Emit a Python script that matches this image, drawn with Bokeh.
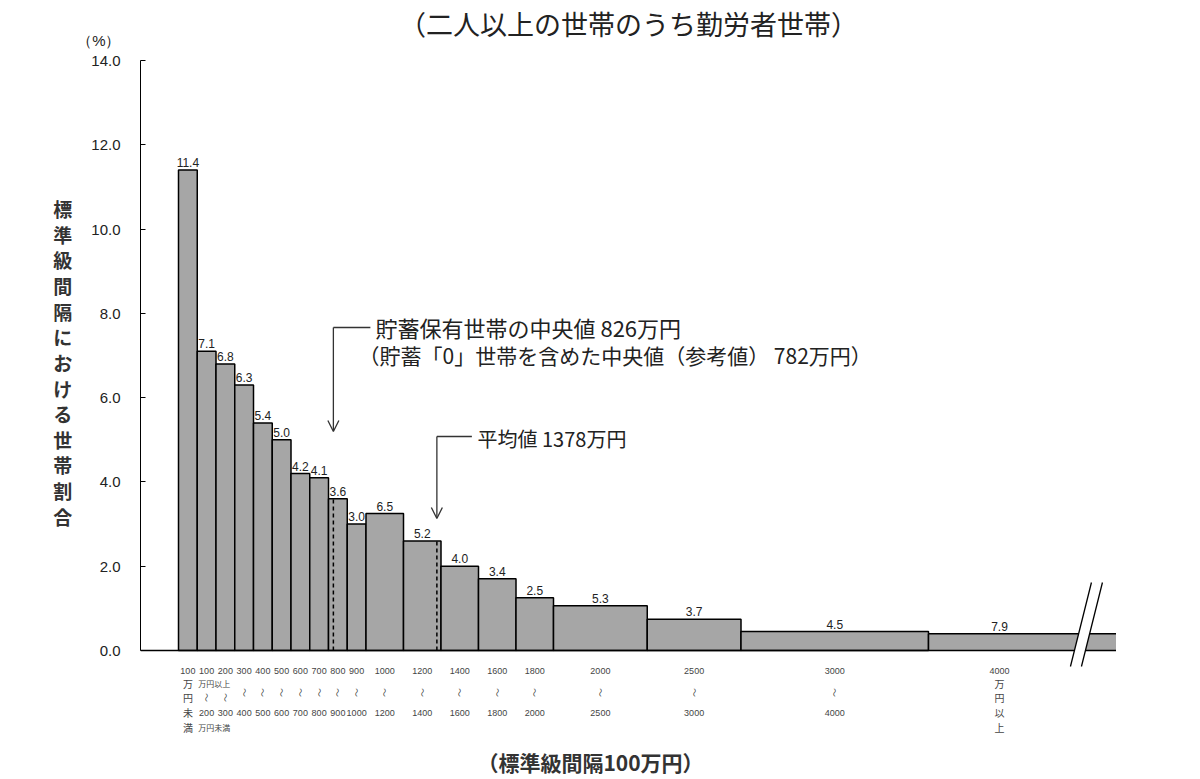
import math
from bokeh.plotting import figure
from bokeh.models import ColumnDataSource, Range1d, FixedTicker, NumeralTickFormatter, Arrow, OpenHead
from bokeh.embed import file_html
from bokeh.resources import INLINE
from bokeh.core.properties import value

# ---------------- data ----------------
title_text = "（二人以上の世帯のうち勤労者世帯）"
y_label_text = "標準級間隔における世帯割合"
x_label_text = "（標準級間隔100万円）"
unit_text = "（%）"
median_text = "貯蓄保有世帯の中央値 826万円"
median_note = "（貯蓄「0」世帯を含めた中央値（参考値） 782万円）"
mean_text = "平均値 1378万円"

bin_lower = [0, 100, 200, 300, 400, 500, 600, 700, 800, 900,
             1000, 1200, 1400, 1600, 1800, 2000, 2500, 3000, 4000]
bin_upper = [100, 200, 300, 400, 500, 600, 700, 800, 900, 1000,
             1200, 1400, 1600, 1800, 2000, 2500, 3000, 4000, 5000]
share_pct = [11.4, 7.1, 6.8, 6.3, 5.4, 5.0, 4.2, 4.1, 3.6, 3.0,
             6.5, 5.2, 4.0, 3.4, 2.5, 5.3, 3.7, 4.5, 7.9]
class_units = [1, 1, 1, 1, 1, 1, 1, 1, 1, 1,
               2, 2, 2, 2, 2, 5, 5, 10, 20]
median_value = 826
mean_value = 1378
y_ticks = [0, 2, 4, 6, 8, 10, 12, 14]
top_labels = ["100", "100", "200", "300", "400", "500", "600", "700", "800", "900",
              "1000", "1200", "1400", "1600", "1800", "2000", "2500", "3000", "4000"]
bottom_labels = ["", "200", "300", "400", "500", "600", "700", "800", "900", "1000",
                 "1200", "1400", "1600", "1800", "2000", "2500", "3000", "4000", ""]
first_suffix = "万円未満"
last_suffix = "万円以上"
range_mark = "～"

# ---------------- layout ----------------
FIG_W, FIG_H = 1195, 775
BORDER_L = 140
XS = 0.1875        # px per 万円
YS = 42.14         # px per %
X0_PAGE = 178      # page x of value 0
Y0_PAGE = 650      # page y of value 0


def pxd(page_x):
    return (page_x - X0_PAGE) / XS


def pyd(page_y):
    return (Y0_PAGE - page_y) / YS


JP = value("Noto Sans CJK JP")
LAT = value("Liberation Sans")

p = figure(width=FIG_W, height=FIG_H, output_backend="svg", toolbar_location=None,
           x_axis_location=None,
           min_border_left=BORDER_L, min_border_right=0,
           min_border_top=0, min_border_bottom=0,
           x_range=Range1d(pxd(BORDER_L), pxd(FIG_W)),
           y_range=Range1d(pyd(FIG_H), pyd(0)))
p.outline_line_color = None
p.grid.grid_line_color = None
p.background_fill_color = "white"
p.border_fill_color = "white"

yax = p.yaxis[0]
yax.bounds = (y_ticks[0], y_ticks[-1])
yax.ticker = FixedTicker(ticks=y_ticks, minor_ticks=[])
yax.formatter = NumeralTickFormatter(format="0.0")
yax.major_label_overrides = {y_ticks[-1]: f"{unit_text}\n{y_ticks[-1]:.1f}\n "}
yax.major_tick_in = 5
yax.major_tick_out = 0
yax.minor_tick_line_color = None
yax.axis_line_color = "black"
yax.major_tick_line_color = "black"
yax.major_label_standoff = 20
yax.major_label_text_font = "Liberation Sans"
yax.major_label_text_font_size = "15px"
yax.major_label_text_color = "#222222"
yax.axis_label = "\n".join(y_label_text) + "\n　\n　"
yax.axis_label_orientation = "horizontal"
yax.axis_label_standoff = 2
yax.axis_label_text_font = "Noto Sans CJK JP"
yax.axis_label_text_font_size = "19px"
yax.axis_label_text_font_style = "bold"
yax.axis_label_text_color = "#333333"
yax.axis_label_text_line_height = 0.95

# ---------------- bars ----------------
heights = [pc / u for pc, u in zip(share_pct, class_units)]
n = len(bin_lower)
break_x = bin_lower[-1] + 0.757 * (bin_upper[-1] - bin_lower[-1])
centers = [(a + b) / 2 for a, b in zip(bin_lower[:-1], bin_upper[:-1])] + [(bin_lower[-1] + break_x) / 2]

bars = ColumnDataSource(dict(left=bin_lower[:-1], right=bin_upper[:-1],
                             top=heights[:-1], bottom=[0] * (n - 1)))
p.quad(left="left", right="right", top="top", bottom="bottom", source=bars,
       fill_color="#a6a6a6", line_color="black", line_width=1.5)
# open-ended last class
p.quad(left=[bin_lower[-1]], right=[bin_upper[-1]], top=[heights[-1]], bottom=[0],
       fill_color="#a6a6a6", line_color=None)
p.segment(x0=[bin_lower[-1], bin_lower[-1]], y0=[0, heights[-1]],
          x1=[bin_lower[-1], bin_upper[-1]], y1=[heights[-1], heights[-1]],
          line_color="black", line_width=1.5)
# baseline
p.segment(x0=[pxd(BORDER_L)], y0=[0], x1=[bin_upper[-1]], y1=[0], line_color="black", line_width=1.5)

# break mark
slant = 21 / XS
gap = 11 / XS
yb, yt = pyd(666), pyd(582)
p.patch(x=[break_x, break_x + gap, break_x + gap + slant, break_x + slant],
        y=[yb, yb, yt, yt], fill_color="white", line_color=None)
p.segment(x0=[break_x, break_x + gap], y0=[yb, yb],
          x1=[break_x + slant, break_x + gap + slant], y1=[yt, yt],
          line_color="black", line_width=1.3)

# value labels
p.text(x=centers, y=heights, text=[f"{v:.1f}" for v in share_pct],
       text_align="center", text_baseline="bottom", y_offset=-3,
       text_font=LAT, text_font_size="12px", text_color="#222222")


def bin_height_at(v):
    for a, b, h in zip(bin_lower, bin_upper, heights):
        if a <= v < b:
            return h
    return 0


# median / mean dashed lines
p.segment(x0=[median_value, mean_value], y0=[0, 0],
          x1=[median_value, mean_value], y1=[bin_height_at(median_value), bin_height_at(mean_value)],
          line_color="black", line_width=1.5, line_dash="4 3")

# arrows
for xv, ytop, ybot, hlen in [(median_value, pyd(327), pyd(431), 37), (mean_value, pyd(436), pyd(518), 35)]:
    p.segment(x0=[xv], y0=[ytop], x1=[xv + hlen / XS], y1=[ytop], line_color="#333333", line_width=1.3)
    p.add_layout(Arrow(end=OpenHead(size=11, line_width=1.3, line_color="#333333"),
                       x_start=xv, y_start=ytop, x_end=xv, y_end=ybot,
                       line_color="#333333", line_width=1.3))

p.text(x=[pxd(375)], y=[pyd(326)], text=[median_text], text_align="left", text_baseline="middle",
       text_font=JP, text_font_size="22px", text_color="#222222")
p.text(x=[pxd(358)], y=[pyd(354)], text=[median_note], text_align="left", text_baseline="middle",
       text_font=JP, text_font_size="21px", text_color="#222222")
p.text(x=[pxd(477)], y=[pyd(438)], text=[mean_text], text_align="left", text_baseline="middle",
       text_font=JP, text_font_size="20px", text_color="#222222")

# main title
p.text(x=[pxd(628)], y=[pyd(23)], text=[title_text], text_align="center", text_baseline="middle",
       text_font=JP, text_font_size="27px", text_color="#222222")

# x axis title
p.text(x=[pxd(590)], y=[pyd(761)], text=[x_label_text], text_align="center", text_baseline="middle",
       text_font=JP, text_font_size="21px", text_font_style="bold", text_color="#333333")

# ---------------- category labels below the axis ----------------
R1, R2, R3, R4, R5, RM = 670, 683, 697, 712, 727, 692
num_x, num_y, num_t = [], [], []
mark_x, mark_y = [], []
jp_x, jp_y, jp_t = [], [], []
for i in range(n):
    num_x.append(centers[i]); num_y.append(pyd(R1)); num_t.append(top_labels[i])
    if bottom_labels[i]:
        num_x.append(centers[i]); num_y.append(pyd(R4)); num_t.append(bottom_labels[i])
        mark_x.append(centers[i]); mark_y.append(pyd(R3 if i in (1, 2) else RM))
for k, ch in enumerate(first_suffix):
    jp_x.append(centers[0]); jp_y.append(pyd([R2, R3, R4, R5][k])); jp_t.append(ch)
for k, ch in enumerate(last_suffix):
    jp_x.append(centers[-1]); jp_y.append(pyd([R2, R3, R4, R5][k])); jp_t.append(ch)

p.text(x=num_x, y=num_y, text=num_t, text_align="center", text_baseline="middle",
       text_font=LAT, text_font_size="9px", text_color="#444444")
p.text(x=mark_x, y=mark_y, text=[range_mark] * len(mark_x), text_align="center", text_baseline="middle",
       angle=math.pi / 2, text_font=JP, text_font_size="9px", text_color="#444444")
p.text(x=jp_x, y=jp_y, text=jp_t, text_align="center", text_baseline="middle",
       text_font=JP, text_font_size="10px", text_color="#444444")
p.text(x=[bin_lower[1], bin_lower[1]], y=[pyd(R2), pyd(R5)], text=[last_suffix, first_suffix],
       text_align="left", text_baseline="middle", x_offset=1,
       text_font=JP, text_font_size="8px", text_color="#444444")

open("out.html", "w").write(file_html(p, INLINE))
